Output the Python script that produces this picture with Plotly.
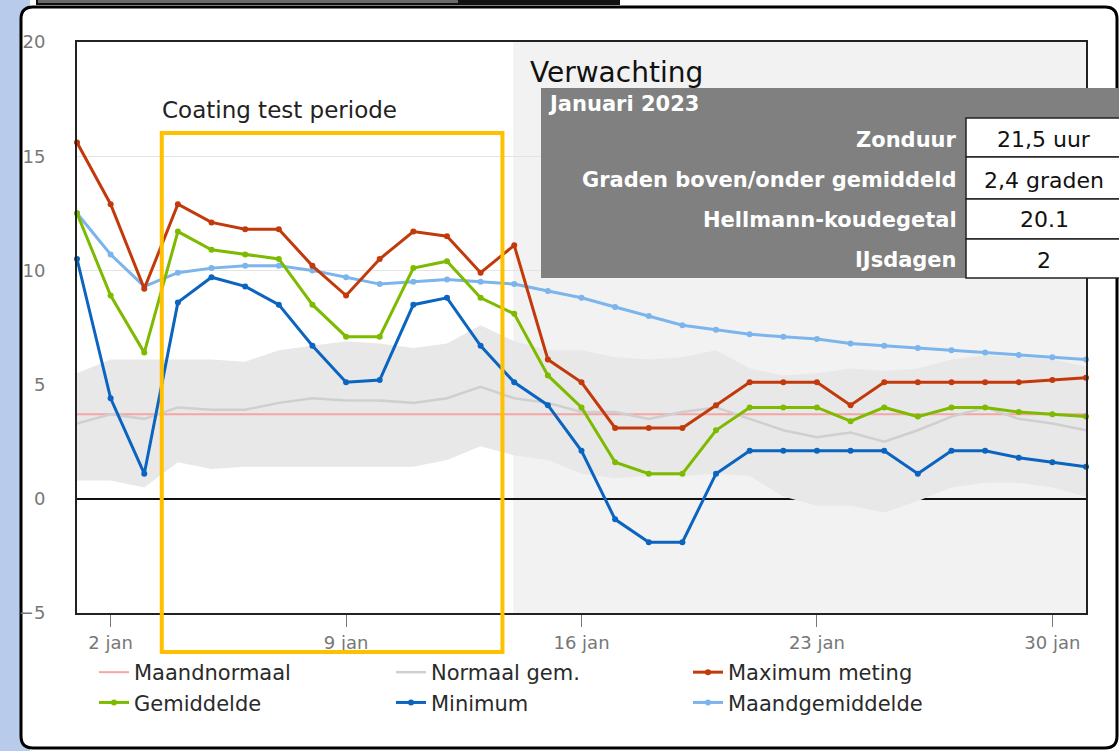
import plotly.graph_objects as go

# dagen van januari 2023
days = list(range(1, 32))
tick_days = [2, 9, 16, 23, 30]
tick_labels = ["2 jan", "9 jan", "16 jan", "23 jan", "30 jan"]

maximum = [15.6, 12.9, 9.2, 12.9, 12.1, 11.8, 11.8, 10.2, 8.9, 10.5, 11.7, 11.5, 9.9, 11.1, 6.1,
           5.1, 3.1, 3.1, 3.1, 4.1, 5.1, 5.1, 5.1, 4.1, 5.1, 5.1, 5.1, 5.1, 5.1, 5.2, 5.3]
gemiddelde = [12.5, 8.9, 6.4, 11.7, 10.9, 10.7, 10.5, 8.5, 7.1, 7.1, 10.1, 10.4, 8.8, 8.1, 5.4,
              4.0, 1.6, 1.1, 1.1, 3.0, 4.0, 4.0, 4.0, 3.4, 4.0, 3.6, 4.0, 4.0, 3.8, 3.7, 3.6]
minimum = [10.5, 4.4, 1.1, 8.6, 9.7, 9.3, 8.5, 6.7, 5.1, 5.2, 8.5, 8.8, 6.7, 5.1, 4.1,
           2.1, -0.9, -1.9, -1.9, 1.1, 2.1, 2.1, 2.1, 2.1, 2.1, 1.1, 2.1, 2.1, 1.8, 1.6, 1.4]
maandgemiddelde = [12.5, 10.7, 9.3, 9.9, 10.1, 10.2, 10.2, 10.0, 9.7, 9.4, 9.5, 9.6, 9.5, 9.4, 9.1,
                   8.8, 8.4, 8.0, 7.6, 7.4, 7.2, 7.1, 7.0, 6.8, 6.7, 6.6, 6.5, 6.4, 6.3, 6.2, 6.1]
normaal_gem = [3.3, 3.7, 3.5, 4.0, 3.9, 3.9, 4.2, 4.4, 4.3, 4.3, 4.2, 4.4, 4.9, 4.4, 4.2,
               3.8, 3.8, 3.5, 3.8, 4.0, 3.5, 3.0, 2.7, 2.9, 2.5, 3.0, 3.6, 4.0, 3.5, 3.3, 3.0]
normaal_hoog = [5.5, 6.1, 6.1, 6.1, 6.1, 6.0, 6.5, 6.7, 6.9, 6.8, 6.6, 6.8, 7.6, 6.9, 6.5,
                6.5, 6.2, 6.1, 6.2, 6.5, 5.7, 5.4, 5.5, 5.7, 5.6, 5.7, 6.1, 6.3, 6.2, 6.1, 5.8]
normaal_laag = [0.8, 0.8, 0.5, 1.6, 1.3, 1.4, 1.4, 1.4, 1.4, 1.4, 1.4, 1.7, 2.3, 1.9, 1.7,
                1.1, 0.9, 1.0, 1.0, 1.1, 1.0, 0.1, -0.3, -0.3, -0.6, -0.1, 0.5, 0.7, 0.7, 0.5, 0.1]
maandnormaal = 3.7

forecast_start = 13.97
coating_start, coating_end = 3.52, 13.65

table_rows = ["Zonduur", "Graden boven/onder gemiddeld", "Hellmann-koudegetal", "IJsdagen"]
table_values = ["21,5 uur", "2,4 graden", "20.1", "2"]

W, H = 1119, 751
L, R, T, B = 77, 33, 42, 138
FONT = "DejaVu Sans"


def fx(px):
    return (px - L) / (W - L - R)


def fy(py):
    return (H - B - py) / (H - T - B)


def rounded_rect(x0, y0, x1, y1, r):
    pts = [("M", x0 + r, y0), ("L", x1 - r, y0), ("Q", x1, y0, x1, y0 + r), ("L", x1, y1 - r),
           ("Q", x1, y1, x1 - r, y1), ("L", x0 + r, y1), ("Q", x0, y1, x0, y1 - r),
           ("L", x0, y0 + r), ("Q", x0, y0, x0 + r, y0)]
    out = ""
    for p in pts:
        coords = p[1:]
        s = " ".join(f"{fx(coords[i]):.5f},{fy(coords[i + 1]):.5f}" for i in range(0, len(coords), 2))
        out += f"{p[0]} {s} "
    return out + "Z"


fig = go.Figure()

# normaal bandbreedte
fig.add_trace(go.Scatter(x=days, y=normaal_laag, mode="lines", line=dict(width=0),
                         showlegend=False, hoverinfo="skip"))
fig.add_trace(go.Scatter(x=days, y=normaal_hoog, mode="lines", line=dict(width=0),
                         fill="tonexty", fillcolor="#e8e8e8",
                         showlegend=False, hoverinfo="skip"))

fig.add_trace(go.Scatter(x=days, y=[maandnormaal] * len(days), name="Maandnormaal", mode="lines",
                         line=dict(color="#f6a5a5", width=2), legendrank=1))
fig.add_trace(go.Scatter(x=days, y=normaal_gem, name="Normaal gem.", mode="lines",
                         line=dict(color="#cfcfcf", width=2.5), legendrank=2))

series = [
    ("Maandgemiddelde", maandgemiddelde, "#7cb5ec", 6),
    ("Minimum", minimum, "#0a64c0", 5),
    ("Gemiddelde", gemiddelde, "#7dba00", 4),
    ("Maximum meting", maximum, "#c23a0c", 3),
]
for name, vals, col, rank in series:
    fig.add_trace(go.Scatter(x=days, y=vals, name=name, mode="lines+markers",
                             line=dict(color=col, width=3), marker=dict(color=col, size=6),
                             cliponaxis=False, legendrank=rank))

shapes = [
    # achtergrond pagina
    dict(type="rect", xref="paper", yref="paper", x0=fx(0), x1=fx(30), y0=fy(H), y1=fy(0),
         fillcolor="#b8cbea", line=dict(width=0), layer="below"),
    dict(type="path", xref="paper", yref="paper", path=rounded_rect(21, 7, 1117, 748, 12),
         fillcolor="white", line=dict(color="black", width=3), layer="below"),
    dict(type="rect", xref="paper", yref="paper", x0=fx(36), x1=fx(620), y0=fy(5), y1=fy(-2),
         fillcolor="#111111", line=dict(width=0), layer="below"),
    dict(type="rect", xref="paper", yref="paper", x0=fx(38), x1=fx(458), y0=fy(3), y1=fy(-2),
         fillcolor="#6a6a6a", line=dict(width=0), layer="below"),
    # verwachting
    dict(type="rect", xref="x", yref="paper", x0=forecast_start, x1=31, y0=0, y1=1,
         fillcolor="#f2f2f2", line=dict(width=0), layer="below"),
    # coating test periode
    dict(type="rect", xref="x", yref="paper", x0=coating_start, x1=coating_end,
         y0=fy(652), y1=fy(133), line=dict(color="#ffc000", width=4), layer="above"),
    # tabel
    dict(type="rect", xref="paper", yref="paper", x0=fx(541), x1=fx(1125), y0=fy(278), y1=fy(88),
         fillcolor="#808080", line=dict(width=0), layer="above"),
]
row_edges = [118, 157, 199, 239, 278]
for i in range(4):
    shapes.append(dict(type="rect", xref="paper", yref="paper", x0=fx(966), x1=fx(1130),
                       y0=fy(row_edges[i + 1]), y1=fy(row_edges[i]), fillcolor="white",
                       line=dict(color="#222222", width=1.5), layer="above"))

annotations = [
    dict(x=fx(160), y=fy(110), text="Coating test periode", xanchor="left", yanchor="middle",
         font=dict(size=23, color="#222222")),
    dict(x=fx(528), y=fy(72), text="Verwachting", xanchor="left", yanchor="middle",
         font=dict(size=28, color="#111111")),
    dict(x=fx(546), y=fy(104), text="<b>Januari 2023</b>", xanchor="left", yanchor="middle",
         font=dict(size=21, color="white")),
]
row_mid = [140, 180, 220, 260]
for lab, val, ym in zip(table_rows, table_values, row_mid):
    annotations.append(dict(x=fx(959), y=fy(ym), text=f"<b>{lab}</b>", xanchor="right",
                            yanchor="middle", font=dict(size=21, color="white")))
    annotations.append(dict(x=fx(1044), y=fy(ym), text=val, xanchor="center", yanchor="middle",
                            font=dict(size=22, color="#111111")))
for a in annotations:
    a.update(xref="paper", yref="paper", showarrow=False)

fig.update_layout(
    width=W, height=H,
    margin=dict(l=L, r=R, t=T, b=B),
    paper_bgcolor="white",
    plot_bgcolor="white",
    font=dict(family=FONT, color="#333333"),
    shapes=shapes,
    annotations=annotations,
    showlegend=True,
    legend=dict(orientation="h", x=fx(94), y=fy(652), xanchor="left", yanchor="top",
                font=dict(size=21, color="#2a2a2a"), entrywidth=252, entrywidthmode="pixels",
                bgcolor="rgba(0,0,0,0)", traceorder="normal"),
    hovermode=False,
)
fig.update_xaxes(range=[1, 31], tickvals=tick_days, ticktext=tick_labels, showgrid=False,
                 ticks="outside", ticklen=12, tickcolor="#777777", tickwidth=1,
                 tickfont=dict(size=18, color="#777777"),
                 showline=True, linecolor="#222222", linewidth=2, mirror=True, zeroline=False)
fig.update_yaxes(range=[-5, 20], tickvals=[-5, 0, 5, 10, 15, 20], showgrid=True,
                 gridcolor="#e4e4e4", gridwidth=1, zeroline=True, zerolinecolor="#111111",
                 zerolinewidth=1.5, tickfont=dict(size=18, color="#777777"),
                 ticklabelstandoff=26, ticks="",
                 showline=True, linecolor="#222222", linewidth=2, mirror=True)

# pagina zonder marge, zodat de figuur het venster precies vult
fig.write_html("out.html", config={"displayModeBar": False},
               post_script="document.body.style.margin='0';document.body.style.overflow='hidden';")
